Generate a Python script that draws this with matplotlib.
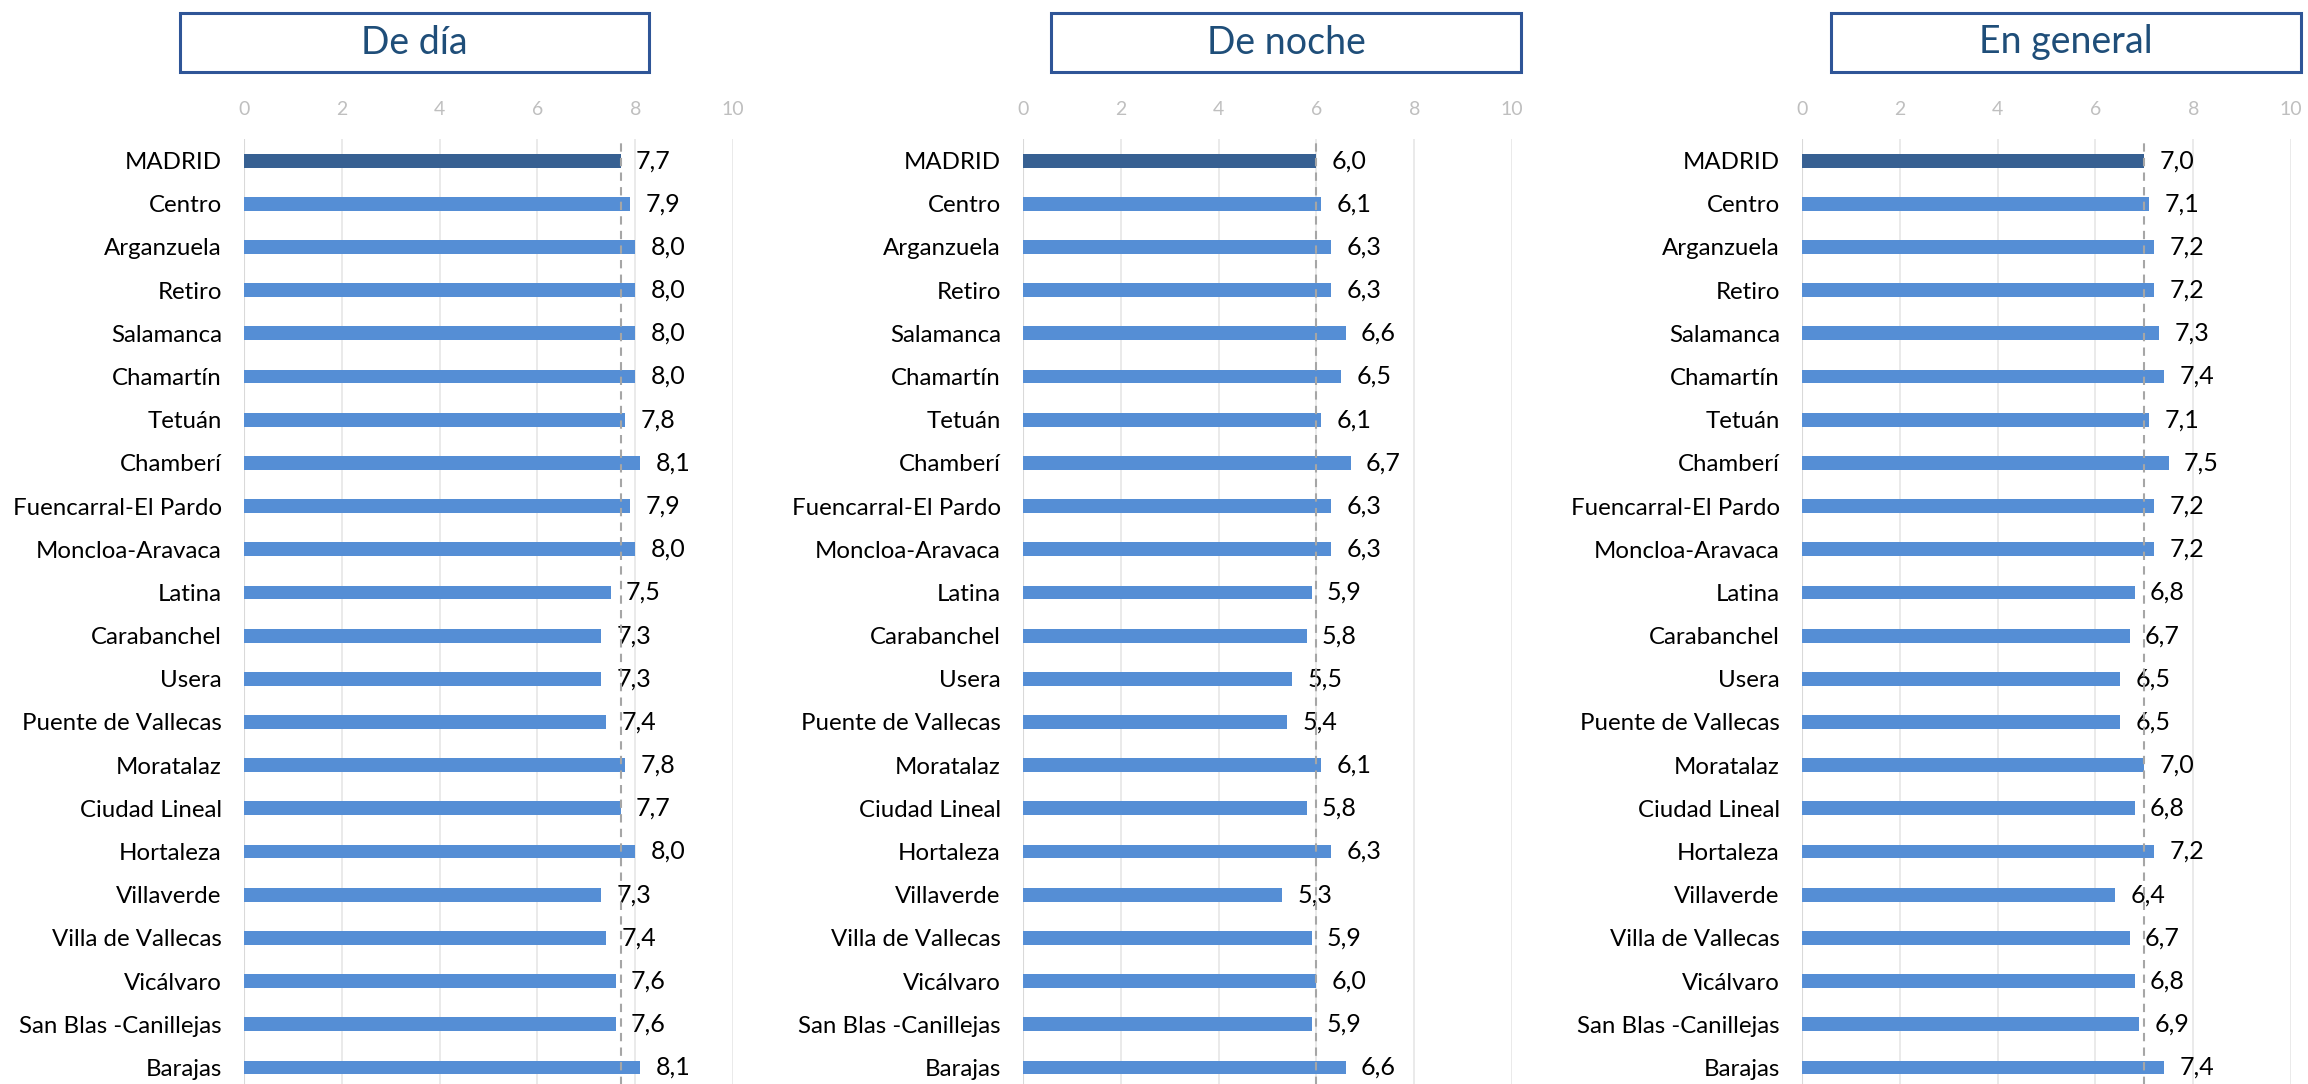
import matplotlib
matplotlib.use("Agg")
import matplotlib.pyplot as plt
from matplotlib.patches import Rectangle

plt.rcParams["font.family"] = ["Lato", "DejaVu Sans"]

districts = ["MADRID", "Centro", "Arganzuela", "Retiro", "Salamanca", "Chamartín",
             "Tetuán", "Chamberí", "Fuencarral-El Pardo", "Moncloa-Aravaca", "Latina",
             "Carabanchel", "Usera", "Puente de Vallecas", "Moratalaz", "Ciudad Lineal",
             "Hortaleza", "Villaverde", "Villa de Vallecas", "Vicálvaro",
             "San Blas -Canillejas", "Barajas"]
de_dia = [7.7, 7.9, 8.0, 8.0, 8.0, 8.0, 7.8, 8.1, 7.9, 8.0, 7.5,
          7.3, 7.3, 7.4, 7.8, 7.7, 8.0, 7.3, 7.4, 7.6, 7.6, 8.1]
de_noche = [6.0, 6.1, 6.3, 6.3, 6.6, 6.5, 6.1, 6.7, 6.3, 6.3, 5.9,
            5.8, 5.5, 5.4, 6.1, 5.8, 6.3, 5.3, 5.9, 6.0, 5.9, 6.6]
en_general = [7.0, 7.1, 7.2, 7.2, 7.3, 7.4, 7.1, 7.5, 7.2, 7.2, 6.8,
              6.7, 6.5, 6.5, 7.0, 6.8, 7.2, 6.4, 6.7, 6.8, 6.9, 7.4]
titles = ["De día", "De noche", "En general"]
x_ticks = [0, 2, 4, 6, 8, 10]

W, H = 2308, 1084
DARK = "#376092"
LIGHT = "#558ED5"
TITLE_COL = "#1F4E79"
BOX_COL = "#2F5597"

fig = plt.figure(figsize=(W / 100, H / 100), dpi=100)

# pixel layout (left of x=0, width to x=10), title boxes
ax_left = [244, 1023, 1802]
ax_w = 489
ax_top, ax_bot = 139, 1089
boxes = [(180, 649), (1051, 1521), (1831, 2301)]
box_top, box_bot = 13, 72

for i, (vals, title) in enumerate(zip([de_dia, de_noche, en_general], titles)):
    ax = fig.add_axes([ax_left[i] / W, 1 - ax_bot / H, ax_w / W, (ax_bot - ax_top) / H])
    y = list(range(len(districts)))
    colors = [DARK] + [LIGHT] * (len(districts) - 1)
    ax.barh(y, vals, height=0.32, color=colors, zorder=3)
    ax.axvline(vals[0], color="#A6A6A6", ls=(0, (4, 3)), lw=1.5, zorder=4)
    for yy, v in zip(y, vals):
        ax.annotate(f"{v:.1f}".replace(".", ","), (v, yy), xytext=(11, 0),
                    textcoords="offset points", va="center", ha="left",
                    fontsize=18, color="black")
    ax.set_xlim(0, 10)
    ax.set_ylim(len(districts) - 0.5, -0.5)
    ax.set_yticks(y)
    ax.set_yticklabels(districts, fontsize=17.3)
    ax.set_xticks(x_ticks)
    ax.xaxis.tick_top()
    ax.tick_params(axis="x", length=0, pad=15, labelsize=14, labelcolor="#BFBFBF")
    ax.tick_params(axis="y", length=0, pad=16)
    ax.grid(axis="x", color="#E6E6E6", lw=1.2, zorder=0)
    for s in ax.spines.values():
        s.set_visible(False)
    ax.axvline(0, color="#D9D9D9", lw=1.5, zorder=2)

    x0, x1 = boxes[i]
    fig.patches.append(Rectangle((x0 / W, 1 - box_bot / H), (x1 - x0) / W,
                                 (box_bot - box_top) / H, transform=fig.transFigure,
                                 fill=False, edgecolor=BOX_COL, lw=2.2))
    fig.text((x0 + x1) / 2 / W, 1 - (box_top + box_bot) / 2 / H, title,
             ha="center", va="center", fontsize=27, color=TITLE_COL)

fig.savefig("out.png", dpi=100)
